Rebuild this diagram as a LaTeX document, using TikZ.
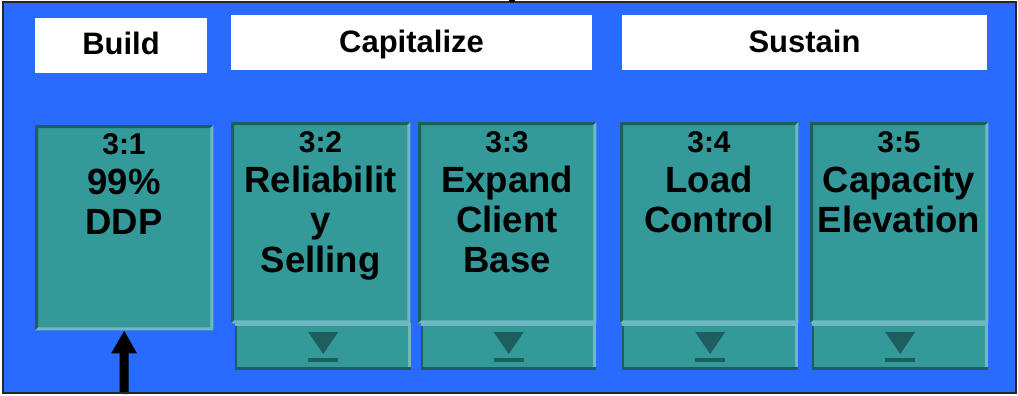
\documentclass[tikz,border=0pt]{standalone}
\usepackage{fontspec}
\setmainfont{Liberation Sans}
\usetikzlibrary{arrows.meta}

\definecolor{panelblue}{RGB}{41,106,255}
\definecolor{tealbody}{RGB}{51,153,153}
\definecolor{tealdark}{RGB}{31,94,94}
\definecolor{teallight}{RGB}{112,184,192}

% raised card edge: dark on top/left, light on bottom/right
\newcommand\cardframe[1]{%
  \fill[tealdark] (#1.south west) -- (#1.north west) -- (#1.north east)
    -- ([shift={(-3pt,-3pt)}]#1.north east) -- ([shift={(3pt,-3pt)}]#1.north west)
    -- ([shift={(3pt,3pt)}]#1.south west) -- cycle;
  \fill[teallight] (#1.north east) -- (#1.south east) -- (#1.south west)
    -- ([shift={(3pt,3pt)}]#1.south west) -- ([shift={(-3pt,3pt)}]#1.south east)
    -- ([shift={(-3pt,-3pt)}]#1.north east) -- cycle;}

% button edge: light on top/right, dark on bottom/left
\newcommand\buttonframe[1]{%
  \fill[teallight] (#1.north west) rectangle ([shift={(0pt,-3pt)}]#1.north east);
  \fill[teallight] ([shift={(-3pt,0pt)}]#1.north east) rectangle (#1.south east);
  \fill[tealdark] (#1.south west) rectangle ([shift={(0pt,3pt)}]#1.south east);
  \fill[tealdark] ([shift={(0pt,3pt)}]#1.south west) rectangle ([shift={(2pt,-3pt)}]#1.north west);
  % drop-down marker
  \fill[tealdark] ([shift={(-15pt,-9pt)}]#1.north) -- ([shift={(15pt,-9pt)}]#1.north)
    -- ([shift={(0pt,-31pt)}]#1.north) -- cycle;
  \fill[tealdark] ([shift={(-15pt,-35pt)}]#1.north) rectangle ([shift={(15pt,-39pt)}]#1.north);}

\newcommand\numsize{\fontsize{30}{40}\selectfont}

\tikzset{
  header/.style={rectangle, fill=white, inner sep=0pt, minimum height=55pt,
    text height=22.2pt, font=\bfseries\fontsize{31}{36}\selectfont},
  card/.style={rectangle, fill=tealbody, inner sep=0pt, anchor=north west,
    minimum width=178pt},
  button/.style={rectangle, fill=tealbody, inner sep=0pt, anchor=north west,
    minimum width=176pt, minimum height=47pt},
  cardtext/.style={anchor=north, align=center, inner sep=0pt,
    font=\bfseries\fontsize{36.5}{40}\selectfont},
  uparrow/.style={line width=9pt, -{Triangle[width=24pt,length=23pt]}}
}

\begin{document}
\begin{tikzpicture}[x=1pt, y=-1pt]
\useasboundingbox (0,0) rectangle (1018,396);

% panel
\fill[panelblue] (3,2) rectangle (1016,393);

% phase headers
\node[header, minimum width=172pt, text depth=3.2pt] (hbuild) at (121,45.5) {Build};
\node[header, minimum width=361pt, text depth=1.2pt] (hcap) at (411.5,42.5) {Capitalize};
\node[header, minimum width=365pt, text depth=1.2pt] (hsus) at (804.5,42.5) {Sustain};

% cards
\node[card, minimum height=205pt] (card1) at (35,125) {};
\node[card, minimum height=201pt, minimum width=179pt] (card2) at (231,122) {};
\node[card, minimum height=201pt] (card3) at (418,122) {};
\node[card, minimum height=201pt] (card4) at (620,122) {};
\node[card, minimum height=201pt] (card5) at (810,122) {};
\foreach \c in {card1,card2,card3,card4,card5} {\cardframe{\c}}

% buttons under cards
\node[button] (btn2) at (235,323) {};
\node[button, minimum width=175pt] (btn3) at (421,323) {};
\node[button] (btn4) at (622,323) {};
\node[button] (btn5) at (812,323) {};
\foreach \b in {btn2,btn3,btn4,btn5} {\buttonframe{\b}}

% card titles
\node[cardtext] (t1) at (124,133.5) {{\numsize 3:1}\\99\%\\DDP};
\node[cardtext] (t2) at (320.5,131.5) {{\numsize 3:2}\\Reliabilit\\y\\Selling};
\node[cardtext] (t3) at (507,131.5) {{\numsize 3:3}\\Expand\\Client\\Base};
\node[cardtext] (t4) at (709,131.5) {{\numsize 3:4}\\Load\\Control};
\node[cardtext] (t5) at (899,131.5) {{\numsize 3:5}\\Capacity\\Elevation};

% entry arrow
\coordinate (arrowfoot) at (124,394);
\draw[uparrow] (arrowfoot) -- (card1.south);

% panel border
\draw[line width=2pt, black!85] (3,2) rectangle (1016,393);
\fill[black] (509,0) rectangle (515,2);
\end{tikzpicture}
\end{document}
